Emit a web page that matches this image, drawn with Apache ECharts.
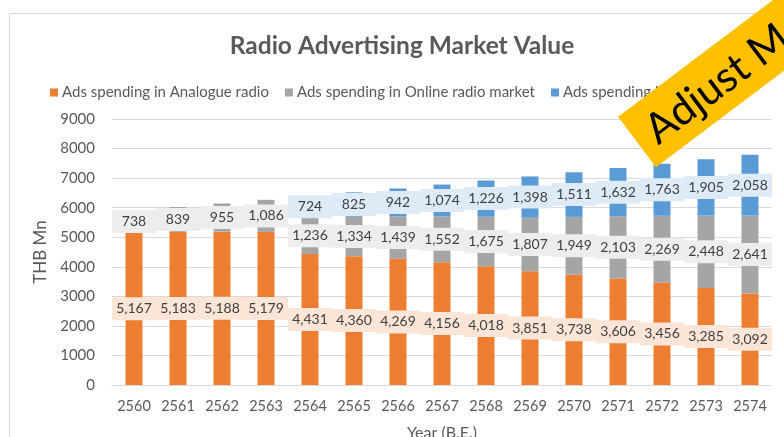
<!DOCTYPE html>
<html>
<head>
<meta charset="utf-8">
<script src="https://cdn.jsdelivr.net/npm/echarts@6/dist/echarts.min.js"></script>
<style>
  html, body { margin: 0; padding: 0; background: #fff; }
  #main { width: 784px; height: 437px; }
</style>
</head>
<body>
<div id="main"></div>
<script>
// 年份 (B.E.)
var years = ['2560', '2561', '2562', '2563', '2564', '2565', '2566', '2567',
             '2568', '2569', '2570', '2571', '2572', '2573', '2574'];
var seriesNames = ['Ads spending in Analogue radio', 'Ads spending in Online radio market', 'Ads spending in Digital radio'];
var analogue = [5167, 5183, 5188, 5179, 4431, 4360, 4269, 4156, 4018, 3851, 3738, 3606, 3456, 3285, 3092];
var online = [738, 839, 955, 1086, 1236, 1334, 1439, 1552, 1675, 1807, 1949, 2103, 2269, 2448, 2641];
var digital = ['-', '-', '-', '-', 724, 825, 942, 1074, 1226, 1398, 1511, 1632, 1763, 1905, 2058];

var font = 'Lato, "Open Sans", sans-serif';

function fmt(p) {
    return Number(p.value).toLocaleString('en-US');
}

// 数据标签，带底色
function lbl(bg) {
    return {
        show: true,
        position: 'inside',
        formatter: fmt,
        color: '#404040',
        fontFamily: font,
        fontSize: 14,
        backgroundColor: bg,
        width: 44,
        height: 23,
        lineHeight: 23,
        align: 'center',
        padding: 0
    };
}

var myChart = echarts.init(document.getElementById('main'));
var option = {
    backgroundColor: '#fff',
    animation: false,
    textStyle: { fontFamily: font },
    title: {
        text: 'Radio Advertising Market Value',
        left: 397,
        top: 29,
        textAlign: 'center',
        textStyle: { color: '#595959', fontSize: 24.5, fontWeight: 'bold', fontFamily: font }
    },
    legend: {
        left: 45,
        top: 80,
        width: 1000,
        itemWidth: 8,
        itemHeight: 8,
        itemGap: 16,
        icon: 'rect',
        textStyle: { color: '#595959', fontSize: 15, fontFamily: font, padding: [0, 0, 0, -1] },
        data: seriesNames
    },
    grid: { left: 112, right: 12, top: 119, bottom: 52, outerBoundsMode: 'none' },
    xAxis: {
        type: 'category',
        data: years,
        name: 'Year (B.E.)',
        nameLocation: 'middle',
        nameGap: 40,
        nameTextStyle: { color: '#595959', fontSize: 16, fontFamily: font },
        axisLine: { lineStyle: { color: '#D9D9D9' } },
        axisTick: { show: false },
        axisLabel: { color: '#595959', fontSize: 14.5, margin: 14, interval: 0, fontFamily: font }
    },
    yAxis: {
        type: 'value',
        min: 0,
        max: 9000,
        interval: 1000,
        name: 'THB Mn',
        nameLocation: 'middle',
        nameGap: 58,
        nameTextStyle: { color: '#595959', fontSize: 17, fontFamily: font },
        axisLine: { show: false },
        axisTick: { show: false },
        axisLabel: {
            color: '#595959', fontSize: 15, margin: 17, fontFamily: font,
            formatter: function (v) { return String(v); }
        },
        splitLine: { lineStyle: { color: '#D9D9D9' } }
    },
    series: [
        {
            name: seriesNames[0], type: 'bar', stack: 'total', barWidth: 17,
            itemStyle: { color: '#ED7D31' },
            label: lbl('#FBE5D6'),
            data: analogue
        },
        {
            name: seriesNames[1], type: 'bar', stack: 'total', barWidth: 17,
            itemStyle: { color: '#A5A5A5' },
            label: lbl('#EDEDED'),
            data: online
        },
        {
            name: seriesNames[2], type: 'bar', stack: 'total', barWidth: 17,
            itemStyle: { color: '#5B9BD5' },
            label: lbl('#DEEBF7'),
            data: digital
        }
    ],
    graphic: [
        {
            type: 'rect', z: -1, silent: true,
            shape: { x: 9.5, y: 13.5, width: 800, height: 440 },
            style: { fill: 'none', stroke: '#D9D9D9', lineWidth: 1 }
        },
        {
            // 右上角的黄色斜条
            type: 'group', x: 637, y: 142, rotation: 37 * Math.PI / 180,
            zlevel: 1, z: 100,
            children: [
                {
                    type: 'rect', zlevel: 1, z: 100,
                    shape: { x: 0, y: -31.5, width: 320, height: 63 },
                    style: { fill: '#FFC000' }
                },
                {
                    type: 'text', x: 15, y: 2, zlevel: 1, z: 101,
                    style: {
                        text: 'Adjust Me...', fill: '#000', fontSize: 42,
                        fontFamily: font, verticalAlign: 'middle', align: 'left'
                    }
                }
            ]
        }
    ]
};
myChart.setOption(option);
</script>
</body>
</html>
